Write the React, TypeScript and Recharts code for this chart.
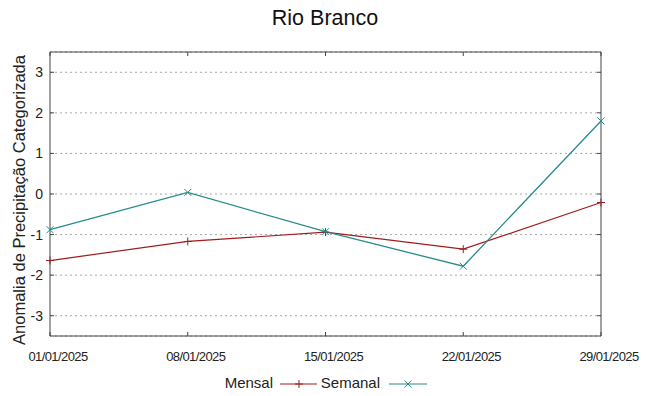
import React from 'react';
import { LineChart, Line, XAxis, YAxis, CartesianGrid } from 'recharts';

const title = 'Rio Branco';
const yLabel = 'Anomalia de Precipitação Categorizada';
const dates = ['01/01/2025', '08/01/2025', '15/01/2025', '22/01/2025', '29/01/2025'];
const mensal = [-1.64, -1.17, -0.94, -1.36, -0.21];
const semanal = [-0.88, 0.04, -0.93, -1.78, 1.8];
const yTicks = [-3, -2, -1, 0, 1, 2, 3];
const yDomain = [-3.5, 3.5];
const seriesNames = ['Mensal', 'Semanal'];

const RED = '#a01c1c';
const TEAL = '#288c8c';
const AXIS = '#444444';
const FONT = '"Liberation Sans", Arial, sans-serif';

const data = dates.map((d, i) => ({ date: d, Mensal: mensal[i], Semanal: semanal[i] }));

const PlusDot = (props: any) => {
  const { cx, cy } = props;
  if (cx == null || cy == null) return <g />;
  return (
    <g>
      <line x1={cx - 4} x2={cx + 4} y1={cy} y2={cy} stroke={RED} strokeWidth={1} />
      <line x1={cx} x2={cx} y1={cy - 4} y2={cy + 4} stroke={RED} strokeWidth={1} />
    </g>
  );
};

const CrossDot = (props: any) => {
  const { cx, cy } = props;
  if (cx == null || cy == null) return <g />;
  return (
    <g>
      <line x1={cx - 3.5} x2={cx + 3.5} y1={cy - 3.5} y2={cy + 3.5} stroke={TEAL} strokeWidth={1} />
      <line x1={cx - 3.5} x2={cx + 3.5} y1={cy + 3.5} y2={cy - 3.5} stroke={TEAL} strokeWidth={1} />
    </g>
  );
};

const NoTick = () => <g />;

export default function App() {
  return (
    <div style={{ position: 'absolute', left: 0, top: 0, width: 649, height: 396, background: '#fff', fontFamily: FONT }}>
      <LineChart
        width={649}
        height={396}
        data={data}
        margin={{ top: 51, right: 47, bottom: 30, left: 0 }}
      >
        <CartesianGrid
          xAxisId="b"
          yAxisId="left"
          vertical={false}
          stroke="#a8a8a8"
          strokeDasharray="2 3"
        />
        <XAxis
          xAxisId="b"
          dataKey="date"
          type="category"
          interval={0}
          height={30}
          stroke={AXIS}
          tickSize={-4}
          tickMargin={20}
          tick={{ fontSize: 13, fill: '#222', fontFamily: FONT, dx: 8, letterSpacing: -0.6 }}
          axisLine={{ stroke: AXIS }}
          tickLine={{ stroke: AXIS }}
        />
        <XAxis
          xAxisId="t"
          orientation="top"
          dataKey="date"
          type="category"
          interval={0}
          height={1}
          tickSize={-4}
          tick={NoTick}
          axisLine={{ stroke: AXIS }}
          tickLine={{ stroke: AXIS }}
        />
        <YAxis
          yAxisId="left"
          width={50}
          domain={yDomain}
          ticks={yTicks}
          type="number"
          allowDataOverflow
          tickSize={-4}
          tickMargin={11}
          tick={{ fontSize: 14, fill: '#222', fontFamily: FONT }}
          axisLine={{ stroke: AXIS }}
          tickLine={{ stroke: AXIS }}
        />
        <YAxis
          yAxisId="right"
          orientation="right"
          width={1}
          domain={yDomain}
          ticks={yTicks}
          type="number"
          allowDataOverflow
          tickSize={-4}
          tick={NoTick}
          axisLine={{ stroke: AXIS }}
          tickLine={{ stroke: AXIS }}
        />
        <Line
          xAxisId="b"
          yAxisId="left"
          type="linear"
          dataKey="Mensal"
          stroke={RED}
          strokeWidth={1.2}
          dot={PlusDot}
          activeDot={false}
          isAnimationActive={false}
        />
        <Line
          xAxisId="b"
          yAxisId="left"
          type="linear"
          dataKey="Semanal"
          stroke={TEAL}
          strokeWidth={1.3}
          dot={CrossDot}
          activeDot={false}
          isAnimationActive={false}
        />
      </LineChart>
      <svg
        width={649}
        height={396}
        style={{ position: 'absolute', left: 0, top: 0, pointerEvents: 'none' }}
      >
        <text x={325} y={25} textAnchor="middle" fontSize={21.5} fill="#111" fontFamily={FONT}>
          {title}
        </text>
        <text
          transform="translate(25,200) rotate(-90)"
          textAnchor="middle"
          fontSize={16.5}
          fill="#222"
          fontFamily={FONT}
        >
          {yLabel}
        </text>
        <text x={273} y={388} textAnchor="end" fontSize={15} fill="#222" fontFamily={FONT}>
          {seriesNames[0]}
        </text>
        <line x1={280} x2={317} y1={384} y2={384} stroke={RED} strokeWidth={1.2} />
        <PlusDot cx={299} cy={384} />
        <text x={380} y={388} textAnchor="end" fontSize={15} fill="#222" fontFamily={FONT}>
          {seriesNames[1]}
        </text>
        <line x1={389} x2={427} y1={384} y2={384} stroke={TEAL} strokeWidth={1.2} />
        <CrossDot cx={408} cy={384} />
      </svg>
    </div>
  );
}
